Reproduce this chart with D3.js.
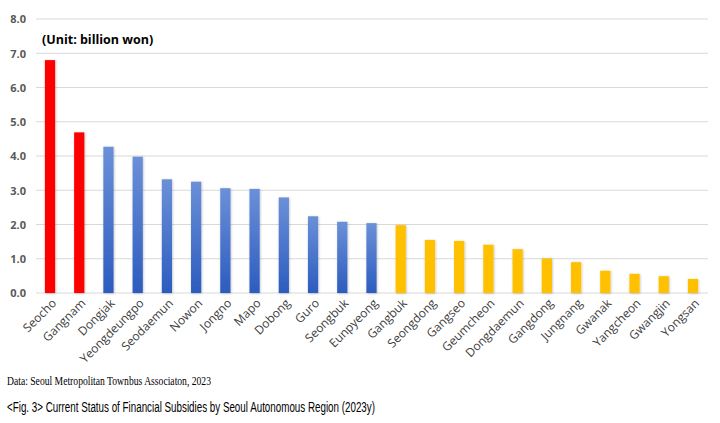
<!DOCTYPE html>
<html><head><meta charset="utf-8">
<script src="https://cdn.jsdelivr.net/npm/d3@7"></script>
<style>
body{margin:0;background:#fff;}
svg{display:block;}
</style></head>
<body>
<svg id="c" width="720" height="423"></svg>
<script>
const categories = ["Seocho","Gangnam","Dongjak","Yeongdeungpo","Seodaemun","Nowon","Jongno","Mapo","Dobong","Guro","Seongbuk","Eunpyeong","Gangbuk","Seongdong","Gangseo","Geumcheon","Dongdaemun","Gangdong","Jungnang","Gwanak","Yangcheon","Gwangjin","Yongsan"];
const values = [6.80,4.69,4.27,3.98,3.32,3.25,3.06,3.04,2.79,2.24,2.08,2.04,1.98,1.55,1.52,1.41,1.28,1.01,0.90,0.65,0.56,0.49,0.41];
const groups = ["red","red","blue","blue","blue","blue","blue","blue","blue","blue","blue","blue","gold","gold","gold","gold","gold","gold","gold","gold","gold","gold","gold"];
const yTicks = [0,1,2,3,4,5,6,7,8];

const svg = d3.select("#c");
const defs = svg.append("defs");
const g1 = defs.append("linearGradient").attr("id","blueGrad").attr("x1",0).attr("y1",0).attr("x2",0).attr("y2",1);
g1.append("stop").attr("offset","0%").attr("stop-color","#6B90D8");
g1.append("stop").attr("offset","100%").attr("stop-color","#2C5CBF");
const f = defs.append("filter").attr("id","sh").attr("x","-50%").attr("y","-10%").attr("width","200%").attr("height","120%");
f.append("feDropShadow").attr("dx",0.6).attr("dy",0.6).attr("stdDeviation",0.8).attr("flood-color","#000").attr("flood-opacity",0.25);

const fill = {red:"#FF0000", blue:"url(#blueGrad)", gold:"#FFC000"};

const x = d3.scaleBand().domain(categories).range([35.4,707.6]).paddingInner(0.65).paddingOuter(0.325);
const y = d3.scaleLinear().domain([0,8]).range([293,19]);

// gridlines
svg.append("g").selectAll("line").data(yTicks).join("line")
  .attr("x1",36).attr("x2",708)
  .attr("y1",d=>y(d)).attr("y2",d=>y(d))
  .attr("stroke","#D9D9D9").attr("stroke-width",1);

// y axis labels
const yAxis = d3.axisLeft(y).tickValues(yTicks).tickFormat(d3.format(".1f")).tickSize(0).tickPadding(0);
const ya = svg.append("g").attr("transform","translate(26,0)").call(yAxis);
ya.select(".domain").remove();
ya.selectAll("text").attr("font-family","'Open Sans', 'Noto Sans', sans-serif").attr("font-size","11px").attr("font-weight","bold").attr("fill","#595959").attr("dy","0.35em");

// bars
svg.append("g").selectAll("rect").data(categories).join("rect")
  .attr("x",d=>x(d)).attr("width",x.bandwidth())
  .attr("y",(d,i)=>y(values[i])).attr("height",(d,i)=>y(0)-y(values[i]))
  .attr("fill",(d,i)=>fill[groups[i]])
  .attr("filter","url(#sh)");

// x axis labels
const xAxis = d3.axisBottom(x).tickSize(0).tickPadding(0);
const xa = svg.append("g").attr("transform","translate(0,293)").call(xAxis);
xa.select(".domain").remove();
xa.selectAll("text")
  .attr("font-family","'Open Sans', 'Noto Sans', sans-serif").attr("font-size","12px").attr("fill","#404040")
  .attr("text-anchor","end").attr("dy",0).attr("y",0)
  .attr("transform","translate(7,11) rotate(-45)");

// unit label
svg.append("text").attr("x",42).attr("y",44).text("(Unit: billion won)")
  .attr("font-family","'Open Sans', 'Noto Sans', sans-serif").attr("font-size","12.5px").attr("font-weight","bold").attr("fill","#000");

// captions
svg.append("text").attr("x",7).attr("y",385).text("Data: Seoul Metropolitan Townbus Associaton, 2023")
  .attr("font-family","'Liberation Serif', serif").attr("font-size","13px").attr("fill","#000")
  .attr("textLength",204).attr("lengthAdjust","spacingAndGlyphs");
svg.append("text").attr("x",7).attr("y",412).text("<Fig. 3> Current Status of Financial Subsidies by Seoul Autonomous Region (2023y)")
  .attr("font-family","'Liberation Sans Narrow', 'Liberation Sans', sans-serif").attr("font-size","14px").attr("fill","#000")
  .attr("textLength",368).attr("lengthAdjust","spacingAndGlyphs");
</script>
</body></html>
